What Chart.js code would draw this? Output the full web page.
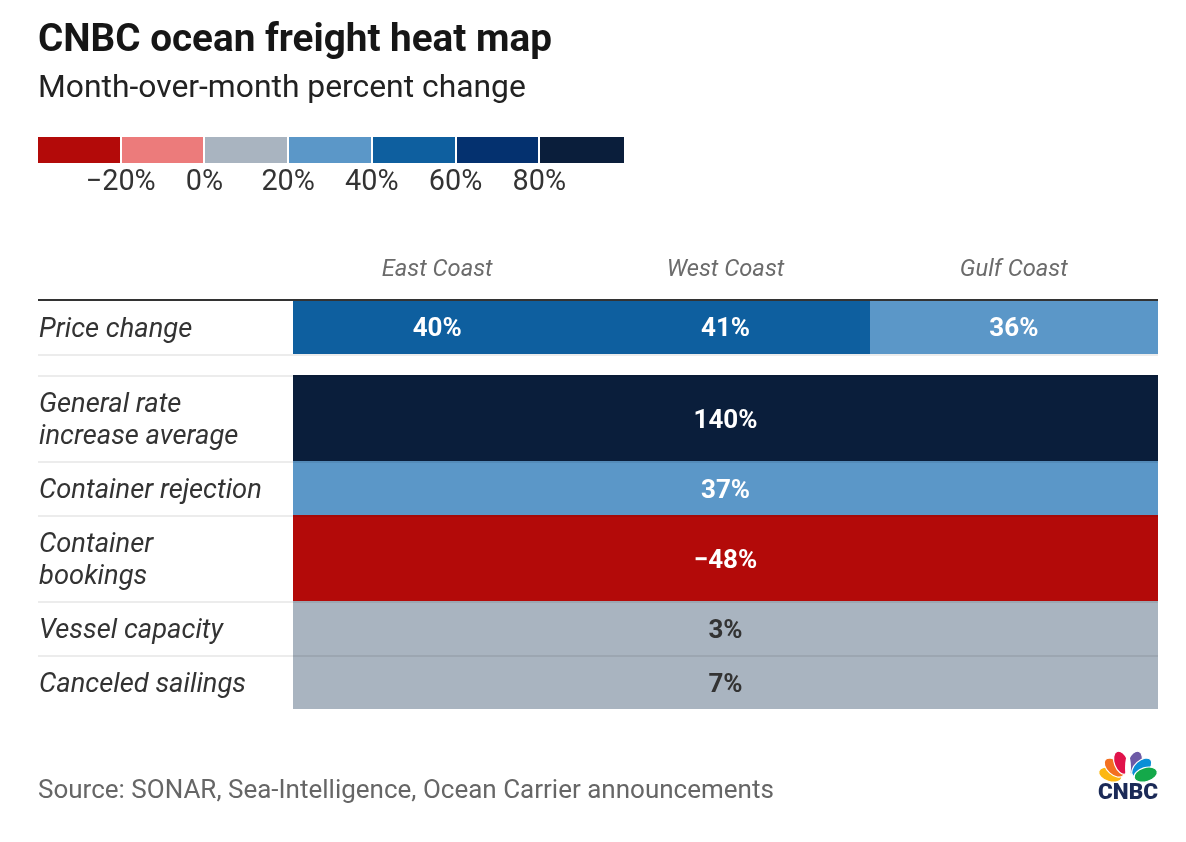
<!DOCTYPE html>
<html>
<head>
<meta charset="utf-8">
<script src="https://cdn.jsdelivr.net/npm/chart.js@4.4.1/dist/chart.umd.min.js"></script>
<style>
html, body { margin: 0; padding: 0; background: #ffffff; }
#wrap { position: relative; width: 1186px; height: 842px; overflow: hidden; }
canvas { display: block; }
</style>
</head>
<body>
<div id="wrap"><canvas id="chart" width="1186" height="842"></canvas></div>
<script>
// ---------- DATA ----------
const titleText = 'CNBC ocean freight heat map';
const subtitleText = 'Month-over-month percent change';
const sourceText = 'Source: SONAR, Sea-Intelligence, Ocean Carrier announcements';
const columns = ['East Coast', 'West Coast', 'Gulf Coast'];
const rowLabels = [
  ['Price change'],
  ['General rate', 'increase average'],
  ['Container rejection'],
  ['Container', 'bookings'],
  ['Vessel capacity'],
  ['Canceled sailings']
];
const priceChangeByCoast = [40, 41, 36];          // row 1, one value per coast
const allCoastValues = [140, 37, -48, 3, 7];       // rows 2-6, one value across all coasts
const legendTickValues = [-20, 0, 20, 40, 60, 80];
const legendTickLabels = ['\u221220%', '0%', '20%', '40%', '60%', '80%'];

// ---------- STYLE / LAYOUT ----------
const binColors = ['#b30a09', '#ec7b7b', '#a9b4c0', '#5b97c8', '#0e5f9f', '#04316f', '#0a1e3b'];
const rowUnits = [1, 1.6, 1, 1.6, 1, 1];
const gapUnits = 0.4;
const FONT = 'Roboto, "Open Sans", sans-serif';

function binIndex(v) {
  let i = 0;
  while (i < legendTickValues.length && v >= legendTickValues[i]) i++;
  return i;
}
function fmt(v) { return (v < 0 ? '\u2212' : '') + Math.abs(v) + '%'; }

const rowSpans = [];
let acc = 0;
rowUnits.forEach((u, i) => { rowSpans.push([acc, acc + u]); acc += u; if (i === 0) acc += gapUnits; });
const totalUnits = acc;

const cells = [];
priceChangeByCoast.forEach((v, i) => cells.push({ x: i + 0.5, y: (rowSpans[0][0] + rowSpans[0][1]) / 2, x0: i, x1: i + 1, row: 0, v }));
allCoastValues.forEach((v, j) => cells.push({ x: columns.length / 2, y: (rowSpans[j + 1][0] + rowSpans[j + 1][1]) / 2, x0: 0, x1: columns.length, row: j + 1, v }));

function fitSize(ctx, fontFn, text, target) {
  ctx.font = fontFn(100);
  return 100 * target / ctx.measureText(text).width;
}
function capHeight(ctx) { return ctx.measureText('H').actualBoundingBoxAscent; }

const heatPlugin = {
  id: 'heat',
  afterDraw(chart) {
    const { ctx, scales: { x, y } } = chart;
    const tableLeft = 38;
    const tableRight = x.getPixelForValue(columns.length);
    ctx.save();

    // Title & subtitle
    const fTitle = s => `700 ${s}px ${FONT}`;
    ctx.font = fTitle(fitSize(ctx, fTitle, titleText, 514));
    ctx.fillStyle = '#161616'; ctx.textAlign = 'left'; ctx.textBaseline = 'alphabetic';
    ctx.fillText(titleText, tableLeft, 51);
    const fSub = s => `400 ${s}px ${FONT}`;
    ctx.font = fSub(fitSize(ctx, fSub, subtitleText, 488));
    ctx.fillStyle = '#222222';
    ctx.fillText(subtitleText, tableLeft, 97);

    // Legend colour bar
    const lgLeft = 38, lgRight = 624, lgTop = 137, lgH = 26;
    const segW = (lgRight - lgLeft) / binColors.length;
    binColors.forEach((c, i) => {
      ctx.fillStyle = c;
      const a = Math.round(lgLeft + i * segW), b = Math.round(lgLeft + (i + 1) * segW) - (i < binColors.length - 1 ? 2 : 0);
      ctx.fillRect(a, lgTop, b - a, lgH);
    });
    const fLg = s => `400 ${s}px ${FONT}`;
    ctx.font = fLg(fitSize(ctx, fLg, legendTickLabels[0], 70));
    ctx.fillStyle = '#333333'; ctx.textAlign = 'center';
    legendTickLabels.forEach((t, i) => ctx.fillText(t, lgLeft + (i + 1) * segW - 1, 190));

    // Column headers
    const fHead = s => `italic 400 ${s}px ${FONT}`;
    ctx.font = fHead(fitSize(ctx, fHead, columns[0], 111));
    ctx.fillStyle = '#6b6b6b'; ctx.textAlign = 'center';
    columns.forEach((c, i) => ctx.fillText(c, x.getPixelForValue(i + 0.5), 276));

    // Cells
    const data = chart.data.datasets[0].data;
    data.forEach(c => {
      const px0 = Math.round(x.getPixelForValue(c.x0)), px1 = Math.round(x.getPixelForValue(c.x1));
      const py0 = Math.round(y.getPixelForValue(rowSpans[c.row][0])), py1 = Math.round(y.getPixelForValue(rowSpans[c.row][1]));
      ctx.fillStyle = binColors[binIndex(c.v)];
      ctx.fillRect(px0, py0, px1 - px0, py1 - py0);
    });

    // Row separators
    ctx.fillStyle = 'rgba(0,0,0,0.075)';
    const seps = [rowSpans[0][1]].concat(rowSpans.slice(1).map(r => r[0]));
    seps.forEach(u => {
      const py = Math.round(y.getPixelForValue(u));
      ctx.fillRect(tableLeft, py, tableRight - tableLeft, 2);
    });
    // Header rule
    ctx.fillStyle = '#333333';
    ctx.fillRect(tableLeft, Math.round(y.getPixelForValue(0)) - 1, tableRight - tableLeft, 2);

    // Row labels
    const fRow = s => `italic 400 ${s}px ${FONT}`;
    ctx.font = fRow(fitSize(ctx, fRow, rowLabels[2][0], 223));
    ctx.fillStyle = '#333333'; ctx.textAlign = 'left';
    const ch = capHeight(ctx);
    rowLabels.forEach((lines, r) => {
      const cy = y.getPixelForValue((rowSpans[r][0] + rowSpans[r][1]) / 2);
      lines.forEach((t, k) => {
        const off = (k - (lines.length - 1) / 2) * 32;
        ctx.fillText(t, 39, cy + off + ch / 2);
      });
    });

    // Values
    const fVal = s => `700 ${s}px ${FONT}`;
    ctx.font = fVal(fitSize(ctx, fVal, '140%', 64));
    const vch = capHeight(ctx);
    ctx.textAlign = 'center';
    data.forEach(c => {
      ctx.fillStyle = binIndex(c.v) === 2 ? '#333333' : '#ffffff';
      ctx.fillText(fmt(c.v), x.getPixelForValue(c.x), y.getPixelForValue(c.y) + vch / 2);
    });

    // Source
    const fSrc = s => `400 ${s}px ${FONT}`;
    ctx.font = fSrc(fitSize(ctx, fSrc, sourceText, 736));
    ctx.fillStyle = '#666666'; ctx.textAlign = 'left';
    ctx.fillText(sourceText, tableLeft, 798);

    // CNBC logo (peacock)
    const ox = 1128, oy = 780;
    const feathers = [
      ['#fcb711', -163], ['#f37021', -138], ['#e0124a', -111],
      ['#6d5aa6', -69], ['#0a8fd6', -42], ['#14a94a', -17]
    ];
    ctx.strokeStyle = '#ffffff'; ctx.lineWidth = 1.2;
    feathers.forEach(([col, deg]) => {
      const a = deg * Math.PI / 180;
      ctx.fillStyle = col;
      ctx.beginPath();
      ctx.ellipse(ox + Math.cos(a) * 18.5, oy + Math.sin(a) * 18.5, 12, 7, a, 0, Math.PI * 2);
      ctx.fill();
      ctx.stroke();
    });
    ctx.fillStyle = '#ffffff';
    ctx.beginPath();
    ctx.ellipse(ox, oy - 12, 3, 13, 0, 0, Math.PI * 2);
    ctx.fill();
    const fLogo = s => `900 ${s}px ${FONT}`;
    ctx.font = fLogo(fitSize(ctx, fLogo, 'CNBC', 60));
    ctx.fillStyle = '#1b2a57'; ctx.textAlign = 'right';
    ctx.fillText('CNBC', 1158, 799);

    ctx.restore();
  }
};

new Chart(document.getElementById('chart'), {
  type: 'scatter',
  data: { datasets: [{ data: cells, pointRadius: 0, pointHoverRadius: 0 }] },
  options: {
    responsive: false,
    animation: false,
    events: [],
    layout: { padding: { left: 293, right: 28, top: 300, bottom: 133 } },
    scales: {
      x: { type: 'linear', min: 0, max: columns.length, display: false },
      y: { type: 'linear', min: 0, max: totalUnits, reverse: true, display: false }
    },
    plugins: { legend: { display: false }, tooltip: { enabled: false }, title: { display: false } }
  },
  plugins: [heatPlugin]
});
</script>
</body>
</html>
